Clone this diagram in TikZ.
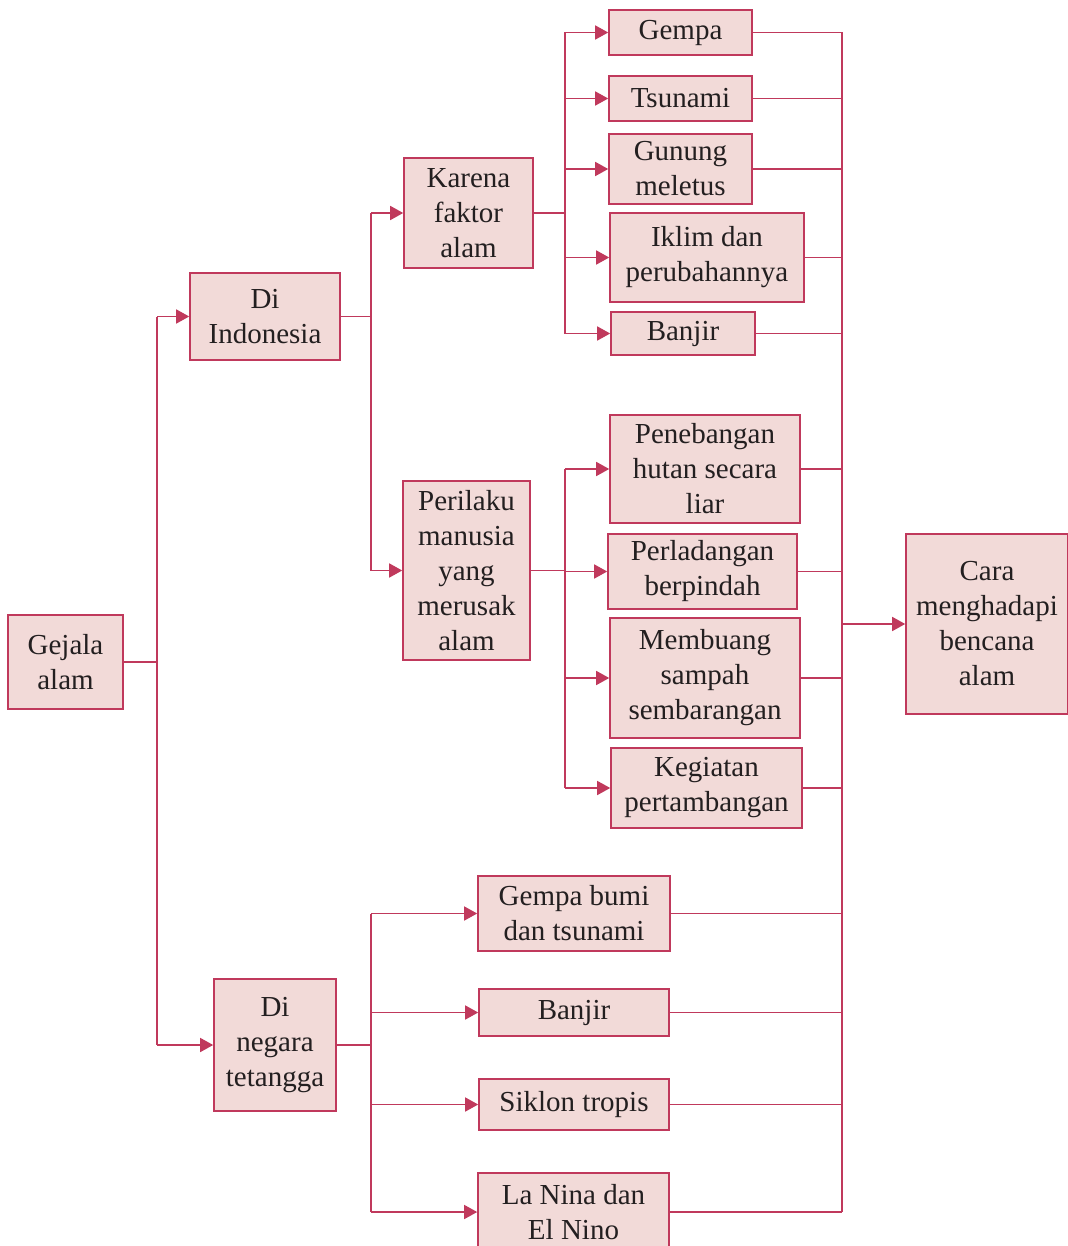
\documentclass[tikz,border=0pt]{standalone}
\usepackage{fontspec}
\setmainfont{Liberation Serif}
\definecolor{bencanared}{HTML}{C0395C}
\definecolor{bencanafill}{HTML}{F2DAD8}
\definecolor{bencanatext}{HTML}{231F20}
\usetikzlibrary{arrows.meta}

\begin{document}
\begin{tikzpicture}[
  x=0.5pt, y=-0.5pt,
  box/.style={draw=bencanared, fill=bencanafill, line width=0.8pt, align=center,
              inner sep=1pt, text=bencanatext,
              font=\fontsize{14.5}{17.5}\selectfont},
  dim/.style 2 args={minimum width=#1*0.5pt, minimum height=#2*0.5pt},
  ln/.style={draw=bencanared, line width=0.75pt},
  arr/.style={ln, -{Triangle[length=6.5pt, width=7pt]}},
]
\useasboundingbox (0,0) rectangle (1067,1246);
% level 0 and 1
\node[box, dim={115}{94}]  (gejala) at (65.5,662)  {Gejala\\alam};
\node[box, dim={150}{87}]  (indo)   at (265,316.5) {Di\\Indonesia};
\node[box, dim={122}{132}] (negara) at (275,1045)  {Di\\negara\\tetangga};
% level 2
\node[box, dim={129}{110}] (karena)   at (468.5,213)   {Karena\\faktor\\alam};
\node[box, dim={127}{179}] (perilaku) at (466.5,570.5) {Perilaku\\manusia\\yang\\merusak\\alam};
% faktor alam
\node[box, dim={143}{45}] (gempa)   at (680.5,32.5) {Gempa};
\node[box, dim={143}{45}] (tsunami) at (680.5,98.5) {Tsunami};
\node[box, dim={143}{70}] (gunung)  at (680.5,169)  {Gunung\\meletus};
\node[box, dim={194}{89}] (iklim)   at (707,257.5)  {Iklim dan\\perubahannya};
\node[box, dim={144}{43}] (banjira) at (683,333.5)  {Banjir};
% perilaku manusia
\node[box, dim={190}{108}] (tebang)  at (705,469)    {Penebangan\\hutan secara\\liar};
\node[box, dim={189}{75}]  (ladang)  at (702.5,571.5) {Perladangan\\berpindah};
\node[box, dim={190}{120}] (sampah)  at (705,678)    {Membuang\\sampah\\sembarangan};
\node[box, dim={191}{80}]  (tambang) at (706.5,788)  {Kegiatan\\pertambangan};
% negara tetangga
\node[box, dim={192}{75}] (gbumi)   at (574,913.5)  {Gempa bumi\\dan tsunami};
\node[box, dim={190}{47}] (banjirb) at (574,1012.5) {Banjir};
\node[box, dim={190}{51}] (siklon)  at (574,1104.5) {Siklon tropis};
\node[box, dim={191}{78}] (lanina)  at (573.5,1212) {La Nina dan\\El Nino};
% goal
\node[box, dim={162}{180}] (cara) at (987,624) {Cara\\menghadapi\\bencana\\alam};

% junction columns
\coordinate (j1) at (157,0);
\coordinate (j2) at (371,0);
\coordinate (j3) at (565,0);
\coordinate (cc) at (842,0);

% gejala alam
\draw[ln] (gejala.east) -- (j1 |- gejala);
\draw[ln] (j1 |- indo) -- (j1 |- negara);
\draw[arr] (j1 |- indo) -- (indo.west);
\draw[arr] (j1 |- negara) -- (negara.west);
% di indonesia
\draw[ln] (indo.east) -- (j2 |- indo);
\draw[ln] (j2 |- karena) -- (j2 |- perilaku);
\draw[arr] (j2 |- karena) -- (karena.west);
\draw[arr] (j2 |- perilaku) -- (perilaku.west);
% karena faktor alam
\draw[ln] (karena.east) -- (j3 |- karena);
\draw[ln] (j3 |- gempa) -- (j3 |- banjira);
\foreach \n in {gempa,tsunami,gunung,iklim,banjira}
  \draw[arr] (j3 |- \n) -- (\n.west);
% perilaku manusia
\draw[ln] (perilaku.east) -- (j3 |- perilaku);
\draw[ln] (j3 |- tebang) -- (j3 |- tambang);
\foreach \n in {tebang,ladang,sampah,tambang}
  \draw[arr] (j3 |- \n) -- (\n.west);
% di negara tetangga
\draw[ln] (negara.east) -- (j2 |- negara);
\draw[ln] (j2 |- gbumi) -- (j2 |- lanina);
\foreach \n in {gbumi,banjirb,siklon,lanina}
  \draw[arr] (j2 |- \n) -- (\n.west);

% collector to cara
\foreach \n in {gempa,tsunami,gunung,iklim,banjira,tebang,ladang,sampah,tambang,gbumi,banjirb,siklon,lanina}
  \draw[ln] (\n.east) -- (cc |- \n);
\draw[ln] (cc |- gempa) -- (cc |- lanina);
\draw[arr] (cc |- cara) -- (cara.west);
\end{tikzpicture}
\end{document}
